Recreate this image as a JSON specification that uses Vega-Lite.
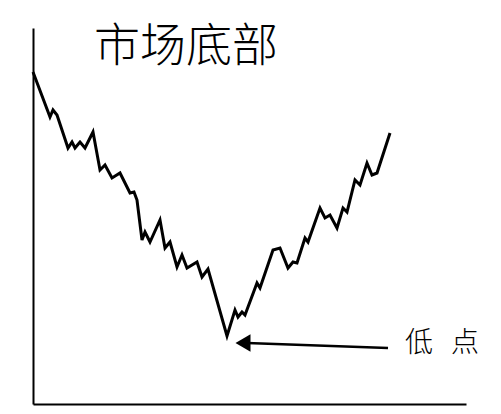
{
  "$schema": "https://vega.github.io/schema/vega-lite/v6.json",
  "width": 433,
  "height": 376,
  "autosize": {"type": "none"},
  "padding": {"left": 33, "top": 28, "right": 35, "bottom": 10},
  "background": "white",
  "view": {"stroke": null},
  "config": {
    "axis": {"domainColor": "black", "domainWidth": 2, "ticks": false, "labels": false, "grid": false, "title": null}
  },
  "datasets": {
    "prices": [
      {"day": 0, "price": 332}, {"day": 17, "price": 287}, {"day": 20, "price": 294}, {"day": 24, "price": 289},
      {"day": 35, "price": 256}, {"day": 39, "price": 262}, {"day": 42, "price": 256}, {"day": 47, "price": 262},
      {"day": 52, "price": 256}, {"day": 60, "price": 272}, {"day": 67, "price": 234}, {"day": 72, "price": 239},
      {"day": 79, "price": 226}, {"day": 87, "price": 231}, {"day": 97, "price": 211}, {"day": 101, "price": 212},
      {"day": 104, "price": 204}, {"day": 109, "price": 164}, {"day": 112, "price": 172}, {"day": 117, "price": 162},
      {"day": 127, "price": 184}, {"day": 132, "price": 156}, {"day": 137, "price": 162}, {"day": 144, "price": 137},
      {"day": 149, "price": 149}, {"day": 154, "price": 136}, {"day": 164, "price": 142}, {"day": 169, "price": 127},
      {"day": 175, "price": 135}, {"day": 194, "price": 68}, {"day": 202, "price": 94}, {"day": 205, "price": 87},
      {"day": 209, "price": 92}, {"day": 212, "price": 89}, {"day": 224, "price": 121}, {"day": 227, "price": 116},
      {"day": 240, "price": 154}, {"day": 247, "price": 156}, {"day": 255, "price": 136}, {"day": 260, "price": 142},
      {"day": 264, "price": 141}, {"day": 272, "price": 166}, {"day": 275, "price": 162}, {"day": 287, "price": 196},
      {"day": 292, "price": 186}, {"day": 297, "price": 189}, {"day": 304, "price": 176}, {"day": 310, "price": 196},
      {"day": 314, "price": 192}, {"day": 322, "price": 224}, {"day": 327, "price": 219}, {"day": 334, "price": 241},
      {"day": 339, "price": 229}, {"day": 344, "price": 231}, {"day": 357, "price": 271}
    ],
    "arrow": [
      {"day": 355, "price": 56, "day2": 214, "price2": 61}
    ],
    "arrowhead": [
      {"day": 210, "price": 61}
    ],
    "labels": [
      {"day": 153, "price": 357, "text": "市场底部", "kind": "title"},
      {"day": 386, "price": 60, "text": "低", "kind": "note"},
      {"day": 432, "price": 60, "text": "点", "kind": "note"}
    ]
  },
  "encoding": {
    "x": {"field": "day", "type": "quantitative", "scale": {"domain": [0, 433]}},
    "y": {"field": "price", "type": "quantitative", "scale": {"domain": [0, 376]}}
  },
  "layer": [
    {
      "data": {"name": "prices"},
      "mark": {"type": "line", "color": "black", "strokeWidth": 3, "strokeJoin": "miter", "clip": false},
      "encoding": {
        "x": {"field": "day", "type": "quantitative", "axis": {"orient": "bottom"}},
        "y": {"field": "price", "type": "quantitative", "axis": {"orient": "left"}}
      }
    },
    {
      "data": {"name": "arrow"},
      "mark": {"type": "rule", "color": "black", "strokeWidth": 2.5},
      "encoding": {
        "x2": {"field": "day2"},
        "y2": {"field": "price2"}
      }
    },
    {
      "data": {"name": "arrowhead"},
      "mark": {"type": "point", "shape": "triangle-left", "filled": true, "color": "black", "size": 300, "opacity": 1},
      "encoding": {}
    },
    {
      "data": {"name": "labels"},
      "transform": [{"filter": "datum.kind == 'title'"}],
      "mark": {"type": "text", "font": "Noto Sans CJK SC", "fontSize": 46, "fontWeight": 300, "color": "black", "align": "center", "baseline": "middle"},
      "encoding": {"text": {"field": "text"}}
    },
    {
      "data": {"name": "labels"},
      "transform": [{"filter": "datum.kind == 'note'"}],
      "mark": {"type": "text", "font": "Noto Sans CJK SC", "fontSize": 28, "fontWeight": 300, "color": "black", "align": "center", "baseline": "middle"},
      "encoding": {"text": {"field": "text"}}
    }
  ]
}
